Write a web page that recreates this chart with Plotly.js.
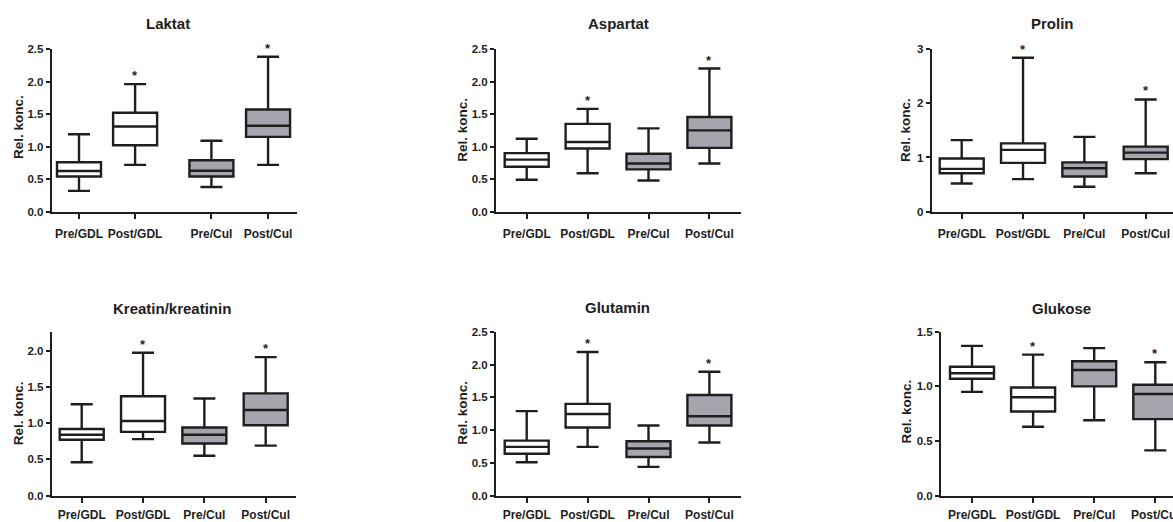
<!DOCTYPE html>
<html>
<head>
<meta charset="utf-8">
<script src="https://cdn.plot.ly/plotly-3.0.1.min.js"></script>
<style>html,body{margin:0;padding:0;background:#fff;}#chart{width:1173px;height:522px;}</style>
</head>
<body>
<div id="chart"></div>
<script>
// ---------- data ----------
const categories = ['Pre/GDL', 'Post/GDL', 'Pre/Cul', 'Post/Cul'];
const significant = [false, true, false, true];
const panelTitles = ['Laktat', 'Aspartat', 'Prolin', 'Kreatin/kreatinin', 'Glutamin', 'Glukose'];
const yTitle = 'Rel. konc.';

const laktatMin = [0.32, 0.72, 0.38, 0.72];
const laktatQ1  = [0.54, 1.02, 0.54, 1.15];
const laktatMed = [0.625, 1.31, 0.63, 1.32];
const laktatQ3  = [0.76, 1.52, 0.79, 1.57];
const laktatMax = [1.19, 1.96, 1.09, 2.38];

const aspartatMin = [0.49, 0.59, 0.48, 0.74];
const aspartatQ1  = [0.69, 0.97, 0.65, 0.98];
const aspartatMed = [0.80, 1.07, 0.74, 1.25];
const aspartatQ3  = [0.90, 1.35, 0.89, 1.455];
const aspartatMax = [1.12, 1.58, 1.28, 2.20];

const prolinMin = [0.52, 0.60, 0.46, 0.71];
const prolinQ1  = [0.71, 0.90, 0.65, 0.97];
const prolinMed = [0.79, 1.14, 0.80, 1.09];
const prolinQ3  = [0.98, 1.26, 0.91, 1.20];
const prolinMax = [1.32, 2.84, 1.38, 2.07];

const kreatinMin = [0.46, 0.78, 0.55, 0.69];
const kreatinQ1  = [0.77, 0.88, 0.72, 0.97];
const kreatinMed = [0.84, 1.03, 0.84, 1.18];
const kreatinQ3  = [0.92, 1.37, 0.94, 1.41];
const kreatinMax = [1.26, 1.97, 1.34, 1.91];

const glutaminMin = [0.51, 0.745, 0.44, 0.81];
const glutaminQ1  = [0.64, 1.04, 0.59, 1.07];
const glutaminMed = [0.745, 1.245, 0.72, 1.21];
const glutaminQ3  = [0.84, 1.40, 0.83, 1.535];
const glutaminMax = [1.29, 2.19, 1.07, 1.89];

const glukoseMin = [0.95, 0.63, 0.69, 0.415];
const glukoseQ1  = [1.07, 0.77, 1.00, 0.70];
const glukoseMed = [1.12, 0.90, 1.15, 0.93];
const glukoseQ3  = [1.18, 0.99, 1.23, 1.015];
const glukoseMax = [1.37, 1.29, 1.35, 1.22];

// ---------- layout configuration (pixel geometry, styles) ----------
const W = 1173, H = 522;
const row1 = [49, 211.7], row2 = [331.7, 495.7];
const panels = [
  {stats:[laktatMin, laktatQ1, laktatMed, laktatQ3, laktatMax], pos:[0,1,2.36,3.37], xpx:[51.7,297], c0:79, u:56.1, rowPx:row1, standoff:5, yMax:2.5, dtick:0.5, fmt:'.1f', tpos:[168,24], ypos:[18,127]},
  {stats:[aspartatMin, aspartatQ1, aspartatMed, aspartatQ3, aspartatMax], pos:[0,1,2,3], xpx:[496,741], c0:526.7, u:60.9, rowPx:row1, standoff:5, yMax:2.5, dtick:0.5, fmt:'.1f', tpos:[618.3,24], ypos:[461.7,130]},
  {stats:[prolinMin, prolinQ1, prolinMed, prolinQ3, prolinMax], pos:[0,1,2,3], xpx:[931.7,1173], c0:961.7, u:61.33, rowPx:row1, standoff:5, yMax:3, dtick:1, fmt:'d', tpos:[1052.7,24], ypos:[905,130]},
  {stats:[kreatinMin, kreatinQ1, kreatinMed, kreatinQ3, kreatinMax], pos:[0,1,2,3], xpx:[51.7,296], c0:81.7, u:61.33, rowPx:row2, standoff:2, yMax:2.26, dtick:0.5, fmt:'.1f', tpos:[171.7,308.3], ypos:[18.3,413]},
  {stats:[glutaminMin, glutaminQ1, glutaminMed, glutaminQ3, glutaminMax], pos:[0,1,2,3], xpx:[496,741], c0:526.7, u:60.9, rowPx:row2, standoff:2, yMax:2.5, dtick:0.5, fmt:'.1f', tpos:[617.3,307.7], ypos:[461.7,413]},
  {stats:[glukoseMin, glukoseQ1, glukoseMed, glukoseQ3, glukoseMax], pos:[0,1,2,3], xpx:[941,1173], c0:972, u:61.1, rowPx:row2, standoff:2, yMax:1.5, dtick:0.5, fmt:'.1f', tpos:[1061.7,308], ypos:[906.7,411.7]}
];

const FONT = 'Liberation Sans, Arial, sans-serif';
const INK = '#1e1e1e';
const GRAY = '#a5a5ae';
const BOX_PX = 44;

const data = [];
const layout = {
  width: W, height: H,
  margin: {l:0, r:0, t:0, b:0},
  paper_bgcolor: '#ffffff', plot_bgcolor: 'rgba(0,0,0,0)',
  showlegend: false,
  font: {family: FONT, color: INK},
  annotations: []
};

panels.forEach((p, i) => {
  const k = i + 1;
  const xa = 'x' + (k === 1 ? '' : k), ya = 'y' + (k === 1 ? '' : k);
  const xKey = 'xaxis' + (k === 1 ? '' : k), yKey = 'yaxis' + (k === 1 ? '' : k);
  const [mn, q1, md, q3, mx] = p.stats;
  const groups = [{idx:[0,1], fill:'#ffffff'}, {idx:[2,3], fill:GRAY}];
  groups.forEach(g => {
    data.push({
      type: 'box', xaxis: xa, yaxis: ya,
      x: g.idx.map(j => p.pos[j]),
      lowerfence: g.idx.map(j => mn[j]),
      q1: g.idx.map(j => q1[j]),
      median: g.idx.map(j => md[j]),
      q3: g.idx.map(j => q3[j]),
      upperfence: g.idx.map(j => mx[j]),
      width: BOX_PX / p.u,
      whiskerwidth: 0.5,
      fillcolor: g.fill,
      line: {color: INK, width: 2.4},
      boxpoints: false,
      hoverinfo: 'skip'
    });
  });
  const r0 = -(p.c0 - p.xpx[0]) / p.u;
  const r1 = (p.xpx[1] - p.c0) / p.u;
  layout[xKey] = {
    domain: [p.xpx[0] / W, Math.min(1, p.xpx[1] / W)],
    range: [r0, r1], anchor: ya,
    showgrid: false, zeroline: false,
    showline: true, linecolor: INK, linewidth: 2,
    ticks: 'outside', ticklen: 5, tickwidth: 2, tickcolor: INK,
    tickvals: p.pos, ticktext: categories,
    tickfont: {family: FONT, size: 12, weight: 700, color: INK},
    ticklabelstandoff: p.standoff,
    ticklabeloverflow: 'allow',
    fixedrange: true
  };
  layout[yKey] = {
    domain: [1 - p.rowPx[1] / H, 1 - p.rowPx[0] / H],
    range: [0, p.yMax], anchor: xa,
    showgrid: false, zeroline: false,
    showline: true, linecolor: INK, linewidth: 2,
    ticks: 'outside', ticklen: 4, tickwidth: 2, tickcolor: INK,
    tick0: 0, dtick: p.dtick, tickformat: p.fmt,
    tickfont: {family: FONT, size: 11.5, weight: 700, color: INK},
    fixedrange: true
  };
  // panel title
  layout.annotations.push({
    xref: 'paper', yref: 'paper', x: p.tpos[0] / W, y: 1 - p.tpos[1] / H,
    xanchor: 'center', yanchor: 'middle', showarrow: false,
    text: panelTitles[i], font: {family: FONT, size: 15, weight: 700, color: INK}
  });
  // y title
  layout.annotations.push({
    xref: 'paper', yref: 'paper', x: p.ypos[0] / W, y: 1 - p.ypos[1] / H,
    xanchor: 'center', yanchor: 'middle', showarrow: false, textangle: -90,
    text: yTitle, font: {family: FONT, size: 13.5, weight: 700, color: INK}
  });
  // significance asterisks
  significant.forEach((s, j) => {
    if (!s) return;
    layout.annotations.push({
      xref: xa, yref: ya, x: p.pos[j], y: mx[j],
      xanchor: 'center', yanchor: 'bottom', showarrow: false, yshift: -1,
      text: '*', font: {family: FONT, size: 13, weight: 700, color: INK}
    });
  });
});

Plotly.newPlot('chart', data, layout, {displayModeBar: false, staticPlot: true});
</script>
</body>
</html>
